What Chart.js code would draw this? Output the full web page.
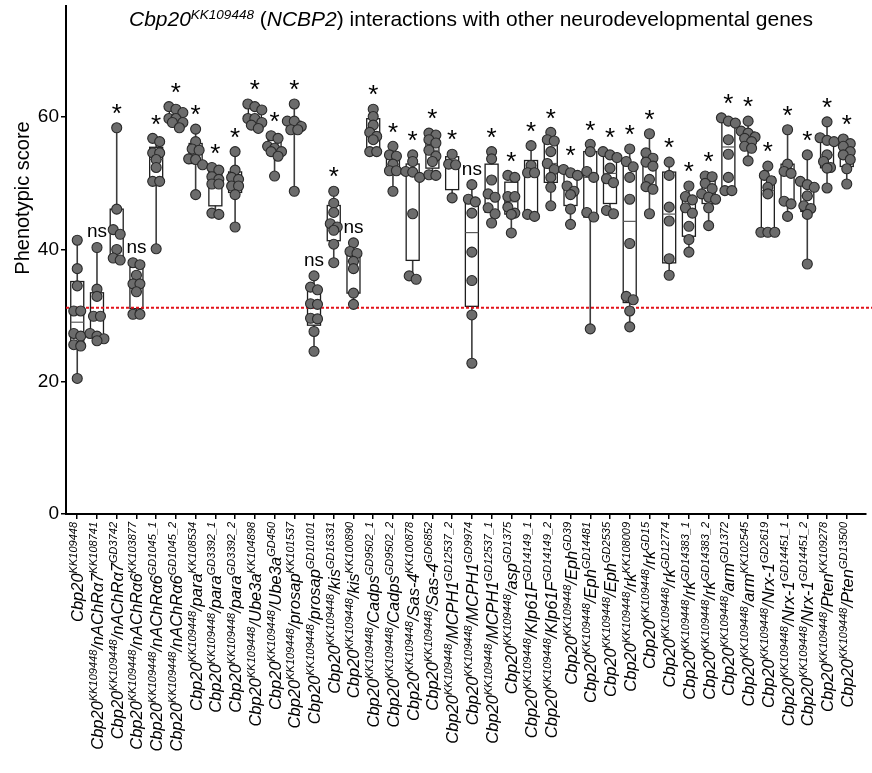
<!DOCTYPE html>
<html lang="en">
<head>
<meta charset="UTF-8">
<title>Cbp20 interactions</title>
<script src="https://cdn.jsdelivr.net/npm/chart.js"></script>
<style>
  html, body { margin: 0; padding: 0; background: #fff; }
</style>
</head>
<body>
<canvas id="scoreChart" width="872" height="773"></canvas>
<script>
// background line used for every cross
const cbpAllele = 'KK109448';

// partner gene and RNAi line for each cross (first entry = Cbp20 alone)
const genes = ['', 'nAChRα7', 'nAChRα7', 'nAChRα6', 'nAChRα6', 'nAChRα6', 'para', 'para', 'para',
  'Ube3a', 'Ube3a', 'prosap', 'prosap', 'kis', 'kis', 'Cadps', 'Cadps', 'Sas-4', 'Sas-4',
  'MCPH1', 'MCPH1', 'MCPH1', 'asp', 'Klp61F', 'Klp61F', 'Eph', 'Eph', 'Eph',
  'rk', 'rk', 'rk', 'rk', 'rk', 'arm', 'arm', 'Nrx-1', 'Nrx-1', 'Nrx-1', 'Pten', 'Pten'];
const alleles = ['', 'KK108741', 'GD3742', 'KK103877', 'GD1045_1', 'GD1045_2', 'KK108534', 'GD3392_1', 'GD3392_2',
  'KK104898', 'GD450', 'KK101537', 'GD10101', 'GD16331', 'KK100890', 'GD9502_1', 'GD9502_2', 'KK100878', 'GD6852',
  'GD12537_2', 'GD9974', 'GD12537_1', 'GD1375', 'GD14149_1', 'GD14149_2', 'GD39', 'GD14481', 'GD2535',
  'KK108009', 'GD15', 'GD12774', 'GD14383_1', 'GD14383_2', 'GD1372', 'KK102545', 'GD2619', 'GD14451_1', 'GD14451_2',
  'KK109278', 'GD13500'];

// phenotypic scores, one list per genotype
const scores = [
  [41.4, 37.1, 34.5, 30.7, 30.7, 27.3, 26.9, 25.6, 25.4, 20.5],
  [40.3, 34.0, 32.9, 29.9, 29.9, 27.3, 26.9, 26.5, 26.2],
  [58.4, 46.1, 43.0, 42.3, 40.0, 38.7, 38.4],
  [38.0, 37.7, 36.1, 34.8, 34.8, 33.6, 30.2, 30.2],
  [56.8, 56.3, 54.6, 54.6, 53.6, 52.4, 50.3, 50.3, 40.1],
  [61.6, 61.2, 60.7, 59.8, 59.8, 59.2, 59.2, 58.4],
  [58.2, 56.3, 55.2, 55.0, 53.7, 53.6, 52.8, 48.3],
  [52.4, 52.0, 51.0, 50.6, 49.9, 49.9, 45.5, 45.3],
  [54.8, 52.0, 50.9, 50.6, 49.6, 49.6, 48.3, 43.4],
  [62.0, 61.6, 61.1, 59.8, 59.8, 59.2, 58.8, 58.3],
  [57.2, 56.8, 55.6, 55.3, 54.8, 54.8, 54.1, 51.1],
  [62.0, 59.4, 59.4, 58.6, 58.1, 58.1, 48.8],
  [36.0, 34.3, 33.9, 31.8, 31.7, 29.6, 29.5, 27.6, 24.6],
  [48.8, 47.0, 45.6, 43.9, 43.4, 42.9, 40.8, 38.0],
  [41.0, 39.7, 39.4, 38.2, 37.1, 33.4, 31.7],
  [61.2, 60.1, 58.8, 57.7, 57.1, 56.6, 54.8, 54.8],
  [55.6, 54.3, 54.1, 52.9, 51.9, 51.9, 48.8],
  [54.3, 53.3, 51.8, 51.7, 50.9, 45.4, 36.0, 35.5],
  [57.6, 57.3, 56.6, 56.1, 55.0, 54.1, 53.3, 51.3, 51.2],
  [54.4, 52.9, 52.8, 47.8],
  [49.8, 47.6, 47.2, 45.5, 39.6, 35.3, 30.1, 22.8],
  [54.8, 53.7, 50.5, 48.4, 47.9, 46.3, 45.4, 44.0],
  [51.2, 50.9, 48.0, 48.0, 46.4, 45.5, 45.3, 42.5],
  [55.7, 52.7, 51.6, 51.6, 45.3, 45.0],
  [57.7, 56.6, 56.4, 54.8, 53.0, 52.1, 50.9, 49.4, 46.6],
  [52.1, 51.6, 51.2, 49.6, 48.8, 48.3, 46.1, 43.8],
  [55.9, 54.8, 51.8, 50.9, 45.6, 44.9, 28.0],
  [54.8, 54.3, 53.9, 52.3, 50.7, 50.1, 45.9, 45.4],
  [55.2, 53.3, 52.5, 50.9, 47.6, 40.9, 32.9, 32.4, 30.7, 28.3],
  [57.5, 54.6, 53.8, 53.2, 52.6, 50.6, 49.5, 49.1, 45.4],
  [53.2, 51.2, 46.4, 44.3, 38.6, 36.1],
  [49.6, 48.0, 47.5, 46.3, 45.5, 43.5, 41.5, 39.6],
  [51.1, 51.0, 50.0, 49.2, 48.4, 47.9, 47.6, 46.3, 43.6],
  [59.9, 59.4, 59.1, 56.6, 54.4, 50.9, 48.9, 48.9],
  [59.4, 57.9, 57.6, 57.0, 56.8, 56.3, 55.6, 55.3, 53.4],
  [52.6, 51.2, 50.4, 49.4, 48.4, 42.6, 42.6, 42.6],
  [58.1, 52.9, 51.8, 51.5, 47.3, 46.9, 45.0],
  [54.3, 50.3, 49.8, 49.4, 48.1, 46.6, 46.2, 45.3, 37.8],
  [59.3, 56.9, 56.5, 56.3, 54.3, 53.3, 52.4, 52.3, 49.3],
  [56.7, 56.0, 55.6, 54.8, 54.3, 53.6, 52.2, 49.9]
];

// significance vs. Cbp20 alone
const sig = ['', 'ns', '*', 'ns', '*', '*', '*', '*', '*', '*', '*', '*', 'ns', '*', 'ns',
  '*', '*', '*', '*', '*', 'ns', '*', '*', '*', '*', '*', '*', '*', '*', '*',
  '*', '*', '*', '*', '*', '*', '*', '*', '*', '*'];

// mean score of the Cbp20 control
const controlLine = 31.2;
const yTicks = [0, 20, 40, 60];

const FONT = "'Liberation Sans', Arial, Helvetica, sans-serif";

// quartiles on the (n+1) basis
function quantile(sorted, p) {
  const n = sorted.length;
  let pos = Math.min(Math.max(p * (n + 1), 1), n);
  const lo = Math.floor(pos), frac = pos - lo;
  if (lo >= n) return sorted[n - 1];
  return sorted[lo - 1] + frac * (sorted[lo] - sorted[lo - 1]);
}

const stats = scores.map(v => {
  const s = [...v].sort((a, b) => a - b);
  return { min: s[0], q1: quantile(s, 0.25), med: quantile(s, 0.5), q3: quantile(s, 0.75), max: s[s.length - 1] };
});

// spread points that sit at about the same height side by side
const PX_PER_X = 19.83, PX_PER_Y = 6.69;
function swarm(vals, i) {
  const order = [...vals].sort((a, b) => b - a);
  const rows = [];
  order.forEach(v => {
    const row = rows[rows.length - 1];
    if (row && row.length < 3 && (row[0] - v) * PX_PER_Y < 6.5) row.push(v);
    else rows.push([v]);
  });
  const out = [];
  rows.forEach(row => {
    row.forEach((v, j) => {
      const dx = (j - (row.length - 1) / 2) * 7;
      out.push({ x: i + dx / PX_PER_X, y: v });
    });
  });
  return out;
}
const points = scores.flatMap((v, i) => swarm(v, i));

// draw a run of plain / superscript / italic pieces, right or centre aligned
function richParts(ctx, parts, size, supSize) {
  return parts.map(p => {
    const fs = p.sup ? supSize : size;
    const font = (p.it ? 'italic ' : '') + fs + 'px ' + FONT;
    ctx.font = font;
    return { ...p, font, w: ctx.measureText(p.t).width };
  });
}
function drawRich(ctx, parts, x, y, size, supSize, raise, align) {
  const items = richParts(ctx, parts, size, supSize);
  const total = items.reduce((a, p) => a + p.w, 0);
  let cx = align === 'right' ? x - total : align === 'center' ? x - total / 2 : x;
  ctx.textAlign = 'left';
  ctx.textBaseline = 'alphabetic';
  items.forEach(p => {
    ctx.font = p.font;
    ctx.fillText(p.t, cx, p.sup ? y - raise : y);
    cx += p.w;
  });
}

const boxPlugin = {
  id: 'boxes',
  beforeDatasetsDraw(chart) {
    const { ctx, scales: { x, y }, chartArea } = chart;
    const half = 6.5;
    ctx.save();
    stats.forEach((s, i) => {
      const cx = x.getPixelForValue(i);
      ctx.strokeStyle = '#3c3c3c';
      ctx.lineWidth = 1.6;
      ctx.beginPath();
      ctx.moveTo(cx, y.getPixelForValue(s.max));
      ctx.lineTo(cx, y.getPixelForValue(s.min));
      ctx.stroke();
      const top = y.getPixelForValue(s.q3), bot = y.getPixelForValue(s.q1);
      ctx.fillStyle = '#fff';
      ctx.fillRect(cx - half, top, half * 2, bot - top);
      ctx.strokeStyle = '#1e1e1e';
      ctx.lineWidth = 1.3;
      ctx.strokeRect(cx - half, top, half * 2, bot - top);
      const m = y.getPixelForValue(s.med);
      ctx.strokeStyle = '#5a5a5a';
      ctx.lineWidth = 1.2;
      ctx.beginPath();
      ctx.moveTo(cx - half, m);
      ctx.lineTo(cx + half, m);
      ctx.stroke();
    });
    // control reference line
    const ly = y.getPixelForValue(controlLine);
    ctx.strokeStyle = '#e3121b';
    ctx.lineWidth = 2;
    ctx.setLineDash([3, 2]);
    ctx.beginPath();
    ctx.moveTo(chartArea.left, ly);
    ctx.lineTo(chart.width, ly);
    ctx.stroke();
    ctx.restore();
  },
  afterDraw(chart) {
    const { ctx, scales: { x, y }, chartArea } = chart;
    ctx.save();
    ctx.fillStyle = '#000';

    // significance marks above each group
    sig.forEach((t, i) => {
      if (!t) return;
      const cx = x.getPixelForValue(i);
      const top = y.getPixelForValue(stats[i].max);
      ctx.textAlign = 'center';
      ctx.textBaseline = 'alphabetic';
      if (t === '*') {
        ctx.font = '26px ' + FONT;
        ctx.fillText('*', cx, top - 21 + 0.585 * 26);
      } else {
        ctx.font = '19px ' + FONT;
        ctx.fillText(t, cx, top - 15 + 5);
      }
    });

    // genotype labels, rotated
    const labelTop = chartArea.bottom + 8;
    genes.forEach((g, i) => {
      const parts = [{ t: 'Cbp20', it: true }, { t: cbpAllele, sup: true, it: true }];
      if (g) parts.push({ t: '/' + g, it: true }, { t: alleles[i], sup: true, it: true });
      ctx.save();
      ctx.translate(x.getPixelForValue(i) + 6, labelTop);
      ctx.rotate(-Math.PI / 2);
      drawRich(ctx, parts, 0, 0, 16.5, 11, 6, 'right');
      ctx.restore();
    });

    // title
    drawRich(ctx, [
      { t: 'Cbp20', it: true }, { t: cbpAllele, sup: true, it: true },
      { t: ' (' }, { t: 'NCBP2', it: true },
      { t: ') interactions with other neurodevelopmental genes' }
    ], 471, 26, 21, 13.5, 7, 'center');

    // y axis title
    ctx.save();
    ctx.translate(29, 198);
    ctx.rotate(-Math.PI / 2);
    ctx.font = '20px ' + FONT;
    ctx.textAlign = 'center';
    ctx.textBaseline = 'alphabetic';
    ctx.fillText('Phenotypic score', 0, 0);
    ctx.restore();
    ctx.restore();
  }
};

new Chart(document.getElementById('scoreChart'), {
  type: 'scatter',
  data: {
    datasets: [{
      data: points,
      pointRadius: 5,
      pointHoverRadius: 5,
      backgroundColor: '#6c6c6c',
      borderColor: '#2a2a2a',
      borderWidth: 1.1,
      clip: false
    }]
  },
  plugins: [boxPlugin],
  options: {
    responsive: false,
    animation: false,
    events: [],
    layout: { padding: { top: 0, right: 2, left: 0, bottom: 0 } },
    plugins: { legend: { display: false }, tooltip: { enabled: false } },
    scales: {
      x: {
        type: 'linear',
        min: -0.57,
        max: 39.97,
        afterBuildTicks: s => { s.ticks = genes.map((_, i) => ({ value: i })); },
        afterFit: s => { s.height = 259; s.paddingLeft = 0; s.paddingRight = 0; },
        ticks: { display: false },
        grid: { drawOnChartArea: false, drawTicks: true, tickLength: 5, color: '#000', lineWidth: 1.5 },
        border: { color: '#000', width: 2 }
      },
      y: {
        min: 0,
        max: 76.8,
        afterBuildTicks: s => { s.ticks = yTicks.map(v => ({ value: v })); },
        afterFit: s => { s.width = 66; s.paddingTop = 0; s.paddingBottom = 0; },
        ticks: { color: '#000', font: { family: FONT, size: 19 }, padding: 2 },
        grid: { drawOnChartArea: false, drawTicks: true, tickLength: 5, color: '#000', lineWidth: 1.5 },
        border: { color: '#000', width: 2 }
      }
    }
  }
});
</script>
</body>
</html>
